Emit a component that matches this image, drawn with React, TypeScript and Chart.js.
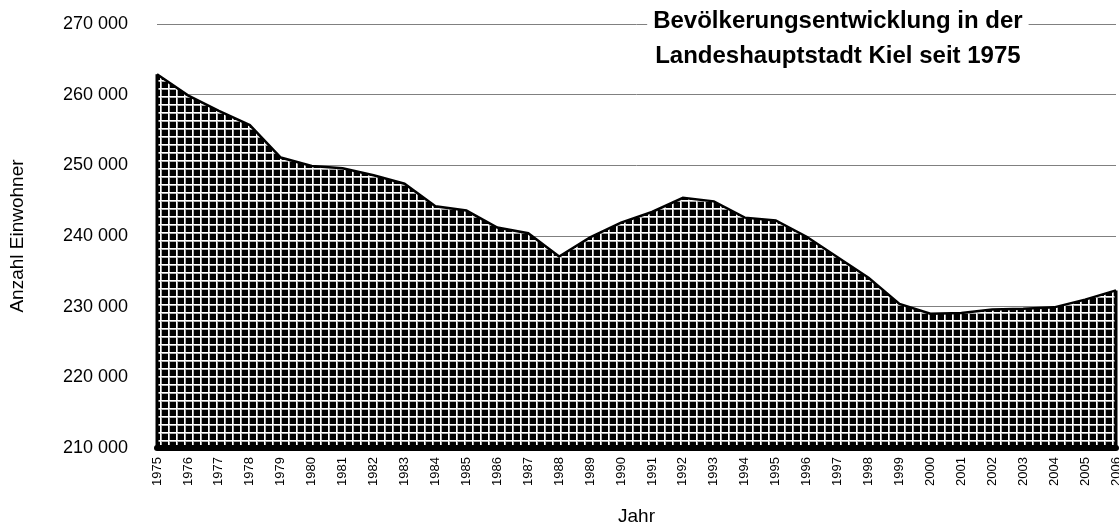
import React, { useEffect, useRef } from "react";
import { Chart, registerables } from "chart.js";

Chart.register(...registerables);

const years = [
  "1975", "1976", "1977", "1978", "1979", "1980", "1981", "1982", "1983", "1984",
  "1985", "1986", "1987", "1988", "1989", "1990", "1991", "1992", "1993", "1994",
  "1995", "1996", "1997", "1998", "1999", "2000", "2001", "2002", "2003", "2004",
  "2005", "2006",
];

const population = [
  262900, 259900, 257700, 255700, 251100, 249900, 249600, 248600, 247400, 244200,
  243600, 241200, 240400, 237100, 239800, 241900, 243400, 245400, 244900, 242600,
  242200, 239900, 237000, 234100, 230400, 229000, 229100, 229600, 229700, 229900,
  231000, 232300,
];

const yTicks = [210000, 220000, 230000, 240000, 250000, 260000, 270000];
const yMin = 210000;
const yMax = 270000;

const titleLines = ["Bevölkerungsentwicklung in der", "Landeshauptstadt Kiel seit 1975"];
const xTitle = "Jahr";
const yTitle = "Anzahl Einwohner";

const FONT = "'Liberation Sans', Arial, Helvetica, sans-serif";

function makePattern(ctx: CanvasRenderingContext2D) {
  const c = document.createElement("canvas");
  c.width = 8;
  c.height = 8;
  const p = c.getContext("2d")!;
  p.fillStyle = "#000";
  p.fillRect(0, 0, 8, 8);
  p.fillStyle = "#b0b0b0";
  p.fillRect(1, 0, 1, 8);
  p.fillRect(0, 1, 8, 1);
  p.fillStyle = "#fff";
  p.fillRect(0, 0, 1, 8);
  p.fillRect(0, 0, 8, 1);
  return ctx.createPattern(c, "repeat");
}

const outlinePlugin = {
  id: "outline",
  afterDatasetsDraw(chart: any) {
    const pts = chart.getDatasetMeta(0).data;
    if (!pts.length) return;
    const first = pts[0];
    const last = pts[pts.length - 1];
    const yBase = chart.scales.y.getPixelForValue(yMin);
    const ctx = chart.ctx;
    ctx.save();
    ctx.strokeStyle = "#000";
    ctx.lineWidth = 3;
    ctx.beginPath();
    ctx.moveTo(first.x, yBase);
    ctx.lineTo(first.x, first.y);
    ctx.moveTo(last.x, yBase);
    ctx.lineTo(last.x, last.y);
    ctx.stroke();
    ctx.lineWidth = 6;
    ctx.lineCap = "round";
    ctx.beginPath();
    ctx.moveTo(first.x, yBase);
    ctx.lineTo(last.x, yBase);
    ctx.stroke();
    ctx.restore();
  },
};

const titlePlugin = {
  id: "overlayTitle",
  afterDraw(chart: any) {
    const ctx = chart.ctx;
    const area = chart.chartArea;
    const cx = area.left + (area.right - area.left) * 0.71;
    const y1 = chart.scales.y.getPixelForValue(yMax) - 3;
    ctx.save();
    ctx.font = `bold 24px ${FONT}`;
    ctx.textAlign = "center";
    ctx.textBaseline = "middle";
    const w = ctx.measureText(titleLines[0]).width;
    ctx.fillStyle = "#fff";
    ctx.fillRect(cx - w / 2 - 6, y1 - 13, w + 12, 26);
    ctx.fillStyle = "#000";
    ctx.fillText(titleLines[0], cx, y1);
    ctx.fillText(titleLines[1], cx, y1 + 35);
    ctx.restore();
  },
};

export default function App() {
  const ref = useRef<HTMLCanvasElement>(null);

  useEffect(() => {
    const canvas = ref.current!;
    const ctx = canvas.getContext("2d")!;
    const pattern = makePattern(ctx);

    const chart = new Chart(ctx, {
      type: "line",
      data: {
        labels: years,
        datasets: [
          {
            data: population,
            fill: "start",
            backgroundColor: pattern as any,
            borderColor: "#000",
            borderWidth: 2.5,
            pointRadius: 0,
            tension: 0,
          },
        ],
      },
      plugins: [outlinePlugin, titlePlugin],
      options: {
        responsive: false,
        animation: false,
        layout: { padding: { top: 24, right: 3, left: 0, bottom: 0 } },
        plugins: {
          legend: { display: false },
          title: { display: false },
          tooltip: { enabled: false },
        },
        scales: {
          x: {
            grid: { display: false, drawTicks: false },
            border: { display: false },
            ticks: {
              autoSkip: false,
              minRotation: 90,
              maxRotation: 90,
              padding: 9,
              color: "#000",
              font: { family: FONT, size: 13 },
            },
            title: {
              display: true,
              text: xTitle,
              color: "#000",
              font: { family: FONT, size: 19 },
              padding: { top: 0, bottom: 0 },
            },
            afterFit(scale: any) {
              scale.height = 80;
              scale.paddingLeft = 0;
              scale.paddingRight = 0;
            },
          },
          y: {
            min: yMin,
            max: yMax,
            grid: { color: "#808080", lineWidth: 1, drawTicks: false },
            border: { display: false },
            afterBuildTicks(scale: any) {
              scale.ticks = yTicks.map((v) => ({ value: v }));
            },
            ticks: {
              padding: 29,
              color: "#000",
              font: { family: FONT, size: 18 },
              callback: (v: any) =>
                String(v).replace(/\B(?=(\d{3})+(?!\d))/g, " "),
            },
            title: {
              display: true,
              text: yTitle,
              color: "#000",
              font: { family: FONT, size: 19 },
              padding: { top: 6, bottom: 0 },
            },
            afterFit(scale: any) {
              scale.width = 157;
              scale.paddingTop = 0;
              scale.paddingBottom = 0;
            },
          },
        },
      },
    });
    return () => chart.destroy();
  }, []);

  return (
    <div style={{ position: "absolute", left: 0, top: 0, width: 1119, height: 528 }}>
      <canvas ref={ref} width={1119} height={528} style={{ display: "block" }} />
    </div>
  );
}
